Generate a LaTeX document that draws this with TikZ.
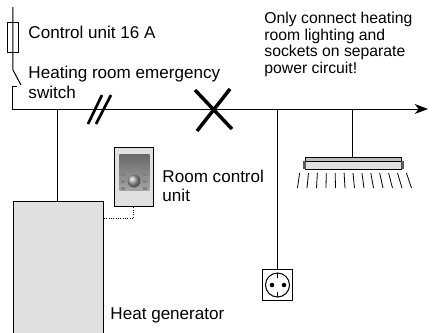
\documentclass[tikz,border=0pt]{standalone}
\usepackage{fontspec}
\setmainfont{Liberation Sans}
\usetikzlibrary{arrows.meta, positioning, calc}
\definecolor{unitgray}{RGB}{224, 224, 224}
\definecolor{tubegray}{RGB}{190, 190, 190}
\definecolor{panelgray}{RGB}{165, 165, 165}
\definecolor{paneldark}{RGB}{105, 105, 105}

\begin{document}
\begin{tikzpicture}[x=0.75pt, y=-0.75pt, line width=0.75pt,
    label/.style={inner sep=0pt, align=left, anchor=west, font=\fontsize{12.8}{15}\selectfont},
    device/.style={rectangle, draw, inner sep=0pt, fill=unitgray},
    slash/.style={line width=2pt},
    cross/.style={line width=2.6pt}]
    \useasboundingbox (0, 0) rectangle (437, 333);

    % Fuse and switch
    \node[device, fill=white, minimum width=8.25pt, minimum height=22.5pt] (fuse) at (13.5, 37) {};
    \coordinate (feed) at (13, 7);
    \coordinate (swtop) at (13, 70);
    \coordinate (swend) at (21, 85);
    \coordinate (swtick) at (17, 86);
    \coordinate (swlow) at (13, 86);
    \draw (feed) -- (swtop) -- (swend);
    \draw (swtick) -- (swlow);

    % Main line
    \coordinate (corner) at (13, 109);
    \coordinate (mainend) at (428, 109);
    \coordinate (tapgen) at (58, 109);
    \coordinate (tapsocket) at (278, 109);
    \coordinate (taplamp) at (353, 109);
    \draw[-{Stealth[length=10pt, width=7.5pt, inset=3pt]}] (swlow) -- (corner) -- (mainend);

    % Heat generator
    \node[device, minimum width=67.5pt, minimum height=104pt, anchor=north west] (gen) at (13, 201) {};
    \draw (tapgen) -- (tapgen |- gen.north);

    % Room control unit
    \node[device, minimum width=29pt, minimum height=44pt, anchor=north west] (ctrl) at (114.5, 147) {};
    \node[rectangle, inner sep=0pt, top color=paneldark, bottom color=panelgray, minimum width=22.5pt, minimum height=27pt, anchor=north west] (panel) at (119, 154) {};
    \foreach \y in {173, 180, 187} {
        \fill[gray] (121, \y) rectangle (125, \y+3);
        \fill[gray] (143, \y) rectangle (147, \y+3);
    }
    \shade[ball color=gray!70] (134, 181) circle (4.8pt);
    \coordinate (dotbend) at (134, 218);
    \draw[densely dotted] (gen.east |- dotbend) -- (dotbend) -- (ctrl.south -| dotbend);

    % Socket
    \node[device, fill=white, minimum width=23pt, minimum height=23pt] (socket) at (277.5, 285) {};
    \draw (tapsocket) -- (tapsocket |- socket.north);
    \draw (socket.center) circle (9pt);
    \draw (277.5, 273) -- (277.5, 278);
    \draw (277.5, 292) -- (277.5, 297);
    \fill (272, 285) circle (1.7pt);
    \fill (284, 285) circle (1.7pt);

    % Lamp
    \node[device, fill=tubegray, minimum width=71.5pt, minimum height=3pt, anchor=north] (tube) at (353.5, 156.5) {};
    \node[device, minimum width=72.5pt, minimum height=6.2pt, anchor=north] (lamp) at (353.5, 160.5) {};
    \fill[black!65] (lamp.north west) ++(-1.5, 0) rectangle ++(3, 8.3);
    \fill[black!65] (lamp.north east) ++(-1.5, 0) rectangle ++(3, 8.3);
    \draw (taplamp) -- (taplamp |- tube.north);
    \foreach \i in {-6, ..., 6} {
        \draw[line width=0.6pt] (353+\i*8.9, 173) -- (354.5+\i*9.5, 188);
    }

    % Marks on the main line
    \draw[slash] (88, 124) -- (102, 95);
    \draw[slash] (96, 124) -- (111, 95);
    \draw[cross] (195, 90) -- (232, 129);
    \draw[cross] (197, 131) -- (230, 89);

    % Labels
    \node[label] (lblfuse) at (28, 32) {Control unit 16 A};
    \node[label] (lblswitch) at (28, 82) {Heating room emergency\\switch};
    \node[label, font=\fontsize{12.8}{14.4}\selectfont] (lblroom) at (162, 185.5) {Room control\\unit};
    \node[label] (lblgen) at (110, 315) {Heat generator};
    \node[label, font=\fontsize{11.8}{12.3}\selectfont] (lblnote) at (264, 44.5) {Only connect heating\\room lighting and\\sockets on separate\\power circuit!};
\end{tikzpicture}
\end{document}
